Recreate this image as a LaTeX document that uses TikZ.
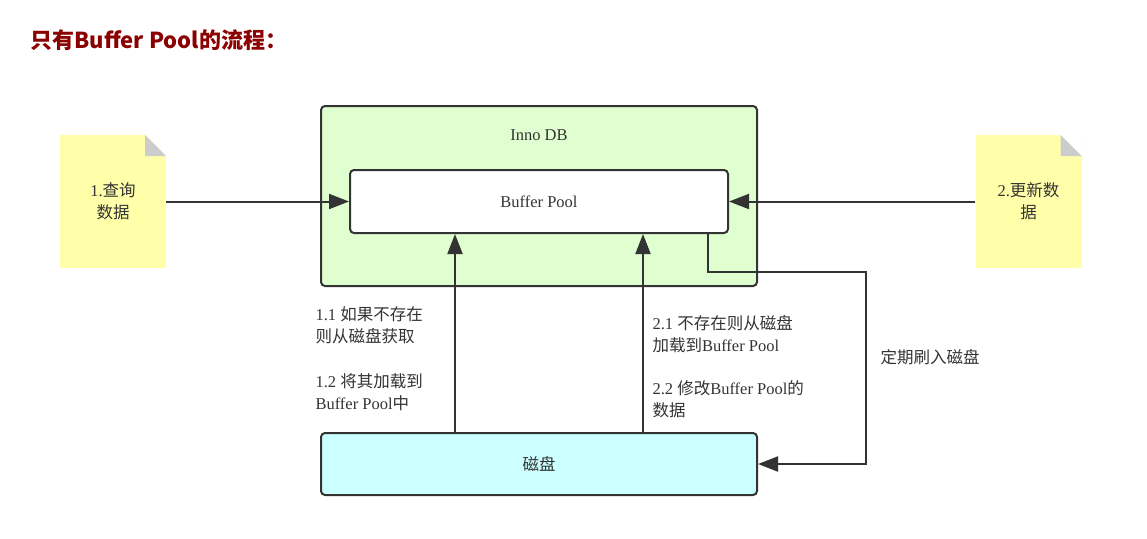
\documentclass[tikz,border=0pt]{standalone}
\usepackage{fontspec}
\setmainfont{Liberation Serif}
\newfontfamily\zh{Noto Sans CJK SC}
\usetikzlibrary{arrows.meta}

\definecolor{ink}{RGB}{51,51,51}
\definecolor{titlered}{RGB}{139,0,0}
\definecolor{notefill}{RGB}{255,255,170}
\definecolor{foldgray}{RGB}{204,204,204}
\definecolor{innofill}{RGB}{224,255,208}
\definecolor{diskfill}{RGB}{204,255,255}

\begin{document}
\begin{tikzpicture}
[
    x=1pt, y=-1pt,
    font=\fontsize{16.5}{22}\selectfont,
    every node/.style={text=ink},
    box/.style={shape=rectangle, rounded corners=4pt, draw=ink, line width=2pt},
    note/.style={shape=rectangle, fill=notefill, minimum width=106pt, minimum height=133pt, align=center,
        path picture={
            \fill[white] ([xshift=-21pt]path picture bounding box.north east) -- (path picture bounding box.north east) -- ([yshift=-21pt]path picture bounding box.north east) -- cycle;
            \fill[foldgray] ([xshift=-21pt]path picture bounding box.north east) -- ([xshift=-21pt,yshift=-21pt]path picture bounding box.north east) -- ([yshift=-21pt]path picture bounding box.north east) -- cycle;
        }},
    flow/.style={draw=ink, line width=2pt, -{Triangle[length=20pt,width=15pt]}},
    caption/.style={anchor=west, align=left},
]
\useasboundingbox (0,0) rectangle (1147,538);

% title
\node[anchor=west, text=titlered, font=\zh\bfseries\fontsize{22}{26}\selectfont] (title) at (27,40) {只有Buffer Pool的流程：};

% boxes
\node[box, fill=innofill, minimum width=436pt, minimum height=180pt] (inno) at (539,196) {};
\node (innolabel) at (539,135) {Inno DB};
\node[box, fill=white, minimum width=378pt, minimum height=63pt] (bp) at (539,201.5) {Buffer Pool};
\node[box, fill=diskfill, minimum width=436pt, minimum height=62pt] (disk) at (539,464) {\zh 磁盘};

% notes
\node[note] (query) at (113,201.5) {1.{\zh 查询}\\{\zh 数据}};
\node[note] (update) at (1028.5,201.5) {2.{\zh 更新数}\\{\zh 据}};

% captions
\node[caption] (cap11) at (312,325) {1.1 {\zh 如果不存在}\\{\zh 则从磁盘获取}};
\node[caption] (cap12) at (312,392) {1.2 {\zh 将其加载到}\\Buffer Pool{\zh 中}};
\node[caption] (cap21) at (649,334) {2.1 {\zh 不存在则从磁盘}\\{\zh 加载到}Buffer Pool};
\node[caption] (cap22) at (649,399) {2.2 {\zh 修改}Buffer Pool{\zh 的}\\{\zh 数据}};
\node[caption] (capflush) at (877,357) {\zh 定期刷入磁盘};

% connectors
\coordinate (turn) at (866,272);
\draw[flow] (query) -- (bp);
\draw[flow] (update) -- (bp);
\draw[flow] ([xshift=-84pt]disk.north) -- ([xshift=-84pt]bp.south);
\draw[flow] ([xshift=104pt]disk.north) -- ([xshift=104pt]bp.south);
\draw[flow] ([xshift=169pt]bp.south) |- (turn) |- (disk.east);
\end{tikzpicture}
\end{document}
